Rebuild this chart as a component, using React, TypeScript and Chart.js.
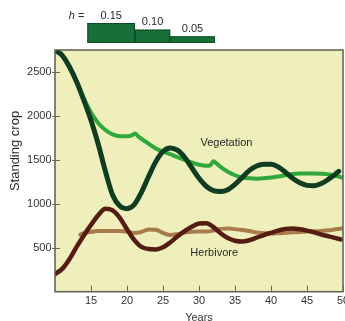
import React, { useEffect, useRef } from "react";
import { Chart, registerables } from "chart.js";

Chart.register(...registerables);

// ---- data ----
const vegOscX = [10, 11, 12, 13, 14, 15, 16, 17, 18, 19, 20, 21, 22, 23, 24, 25, 26, 27, 28, 29, 30, 31, 32, 33, 34, 35, 36, 37, 38, 39, 40, 41, 42, 43, 44, 45, 46, 47, 48, 49, 49.4];
const vegOscY = [2750, 2690, 2560, 2390, 2180, 1950, 1680, 1370, 1100, 975, 945, 990, 1130, 1310, 1480, 1595, 1635, 1610, 1530, 1410, 1290, 1200, 1150, 1140, 1160, 1220, 1300, 1380, 1430, 1450, 1450, 1420, 1360, 1290, 1240, 1210, 1205, 1230, 1280, 1340, 1370];

const vegSmoothX = [10, 11, 12, 13, 14, 15, 16, 17, 18, 19, 20, 20.6, 21.1, 21.6, 22, 23, 24, 25, 26, 27, 28, 29, 30, 31, 31.6, 32, 32.5, 33, 34, 35, 36, 37, 38, 39, 40, 41, 42, 43, 44, 45, 46, 47, 48, 49, 50];
const vegSmoothY = [2750, 2690, 2560, 2390, 2200, 2040, 1920, 1840, 1790, 1770, 1770, 1775, 1800, 1765, 1740, 1685, 1630, 1595, 1565, 1530, 1500, 1470, 1445, 1432, 1440, 1485, 1455, 1420, 1365, 1325, 1300, 1290, 1285, 1290, 1300, 1310, 1325, 1340, 1345, 1345, 1345, 1342, 1335, 1320, 1295];

const herbOscX = [10, 11, 12, 13, 14, 15, 16, 17, 18, 19, 20, 21, 22, 23, 24, 25, 26, 27, 28, 29, 30, 31, 32, 33, 34, 35, 36, 37, 38, 39, 40, 41, 42, 43, 44, 45, 46, 47, 48, 49, 49.7];
const herbOscY = [200, 260, 370, 510, 640, 760, 870, 945, 925, 840, 710, 590, 510, 485, 480, 505, 560, 628, 690, 740, 775, 780, 735, 665, 610, 580, 570, 585, 615, 645, 670, 695, 715, 720, 710, 695, 675, 650, 630, 610, 595];

const herbSmoothX = [13.5, 14, 15, 16, 17, 18, 19, 20, 21, 22, 23, 24, 25, 26, 27, 28, 29, 30, 31, 32, 33, 34, 35, 36, 37, 38, 39, 40, 41, 42, 43, 44, 45, 46, 47, 48, 49, 50];
const herbSmoothY = [650, 665, 680, 690, 692, 692, 690, 682, 668, 680, 708, 705, 670, 645, 655, 672, 683, 685, 685, 695, 715, 720, 712, 702, 690, 675, 665, 662, 665, 670, 675, 680, 684, 688, 691, 698, 710, 721];

const xTickValues = [15, 20, 25, 30, 35, 40, 45, 50];
const yTickValues = [500, 1000, 1500, 2000, 2500];

const harvestStart = [14.5, 21.1, 26.0];
const harvestEnd = [21.1, 26.0, 32.2];
const harvestRate = [0.15, 0.1, 0.05];
const harvestLabels = ["0.15", "0.10", "0.05"];

const seriesLabels = ["Vegetation", "Herbivore"];
const seriesLabelX = [30.2, 28.8];
const seriesLabelY = [1690, 440];

const FONT = "'Liberation Sans', Arial, Helvetica, sans-serif";

const pts = (xs: number[], ys: number[]) => xs.map((x, i) => ({ x, y: ys[i] }));

const decorPlugin = {
  id: "decor",
  beforeDraw(chart: any) {
    const { ctx, chartArea: a } = chart;
    ctx.save();
    ctx.fillStyle = "#efefbc";
    ctx.fillRect(a.left, a.top, a.right - a.left, a.bottom - a.top);
    ctx.restore();
  },
  afterDatasetsDraw(chart: any) {
    const { ctx, chartArea: a } = chart;
    const xs = chart.scales.x;
    const ys = chart.scales.y;
    ctx.save();
    ctx.strokeStyle = "#5e5e4c";
    ctx.lineWidth = 1.5;
    ctx.strokeRect(a.left, a.top, a.right - a.left, a.bottom - a.top);
    ctx.strokeStyle = "#666";
    ctx.lineWidth = 1;
    xs.ticks.forEach((t: any) => {
      const px = Math.round(xs.getPixelForValue(t.value)) + 0.5;
      ctx.beginPath();
      ctx.moveTo(px, a.bottom);
      ctx.lineTo(px, a.bottom - 6);
      ctx.stroke();
    });
    ys.ticks.forEach((t: any) => {
      const py = Math.round(ys.getPixelForValue(t.value)) + 0.5;
      ctx.beginPath();
      ctx.moveTo(a.left - 3, py);
      ctx.lineTo(a.left + 5, py);
      ctx.stroke();
    });
    ctx.restore();
  },
  afterDraw(chart: any) {
    const { ctx } = chart;
    const xs = chart.scales.x;
    const ys = chart.scales.y;
    const yh = chart.scales.yh;
    ctx.save();
    ctx.font = `11px ${FONT}`;
    ctx.fillStyle = "#2a2a2a";
    ctx.textBaseline = "middle";
    ctx.textAlign = "left";
    seriesLabels.forEach((s, i) => {
      ctx.fillText(s, xs.getPixelForValue(seriesLabelX[i]), ys.getPixelForValue(seriesLabelY[i]));
    });
    ctx.save();
    ctx.translate(15, 151);
    ctx.rotate(-Math.PI / 2);
    ctx.textAlign = "center";
    ctx.font = `13px ${FONT}`;
    ctx.fillText("Standing crop", 0, 0);
    ctx.restore();
    const base = yh.getPixelForValue(0);
    harvestRate.forEach((h, i) => {
      const x0 = xs.getPixelForValue(harvestStart[i]);
      const x1 = xs.getPixelForValue(harvestEnd[i]);
      const top = yh.getPixelForValue(h);
      ctx.fillStyle = "#17703a";
      ctx.fillRect(x0, top, x1 - x0, base - top);
      ctx.strokeStyle = "#0d4a24";
      ctx.lineWidth = 1;
      ctx.strokeRect(x0 + 0.5, top + 0.5, x1 - x0 - 1, base - top - 1);
      ctx.fillStyle = "#2a2a2a";
      ctx.textAlign = "center";
      ctx.textBaseline = "bottom";
      ctx.fillText(harvestLabels[i], (x0 + x1) / 2, top - 2);
    });
    const hx = xs.getPixelForValue(harvestStart[0]) - 3;
    const hy = yh.getPixelForValue(harvestRate[0]) - 2;
    ctx.textAlign = "right";
    ctx.textBaseline = "bottom";
    ctx.fillText(" =", hx, hy);
    const eqW = ctx.measureText(" =").width;
    ctx.font = `italic 11px ${FONT}`;
    ctx.fillText("h", hx - eqW, hy);
    ctx.restore();
  },
};

export default function App() {
  const ref = useRef<HTMLCanvasElement | null>(null);
  useEffect(() => {
    if (!ref.current) return;
    Chart.defaults.font.family = FONT;
    Chart.defaults.font.size = 11;
    Chart.defaults.color = "#333";
    const chart = new Chart(ref.current, {
      type: "line",
      data: {
        datasets: [
          { data: pts(vegOscX, vegOscY), borderColor: "#103d21", borderWidth: 5 },
          { data: pts(herbOscX, herbOscY), borderColor: "#541c12", borderWidth: 4.5 },
          { data: pts(vegSmoothX, vegSmoothY), borderColor: "#30a83b", borderWidth: 4 },
          { data: pts(herbSmoothX, herbSmoothY), borderColor: "#a87a4c", borderWidth: 4 },
        ].map((d) => ({ ...d, pointRadius: 0, cubicInterpolationMode: "monotone" as const, fill: false, borderCapStyle: "round" as const })),
      },
      options: {
        responsive: false,
        animation: false,
        devicePixelRatio: 1,
        layout: { padding: { top: 50, right: 2, left: 0, bottom: 0 } },
        plugins: { legend: { display: false }, tooltip: { enabled: false } },
        scales: {
          x: {
            type: "linear",
            min: 10,
            max: 50,
            ticks: { stepSize: 5, padding: 3, color: "#333", maxRotation: 0, callback: (v: any) => String(v) },
            afterBuildTicks: (s: any) => {
              s.ticks = xTickValues.map((v) => ({ value: v }));
            },
            afterFit: (s: any) => {
              s.height = 29.3;
              s.paddingLeft = 0;
              s.paddingRight = 0;
            },
            grid: { display: false, drawTicks: false },
            border: { display: false },
            title: { display: true, text: "Years", color: "#333", font: { size: 11 }, padding: { top: 0, bottom: -4 } },
          },
          y: {
            type: "linear",
            min: 0,
            max: 2750,
            ticks: { stepSize: 500, padding: 3.5, color: "#333", callback: (v: any) => String(v) },
            afterBuildTicks: (s: any) => {
              s.ticks = yTickValues.map((v) => ({ value: v }));
            },
            afterFit: (s: any) => {
              s.width = 55;
              s.paddingTop = 0;
              s.paddingBottom = 0;
            },
            grid: { display: false, drawTicks: false },
            border: { display: false },
          },
          yh: {
            type: "linear",
            display: false,
            min: -1.865,
            max: -0.0525,
          },
        },
      },
      plugins: [decorPlugin],
    });
    return () => chart.destroy();
  }, []);
  return (
    <div style={{ position: "fixed", left: 0, top: 0, width: 345, height: 321 }}>
      <canvas ref={ref} width={345} height={321} />
    </div>
  );
}
